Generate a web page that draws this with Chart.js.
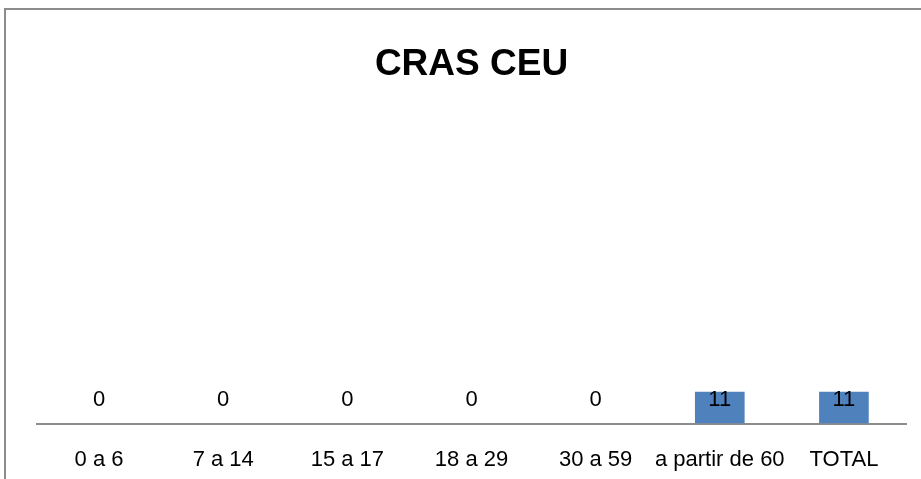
<!DOCTYPE html>
<html lang="pt">
<head>
    <meta charset="UTF-8">
    <title>CRAS CEU</title>
    <script src="https://cdn.jsdelivr.net/npm/chart.js"></script>
    <style>
        html, body {
            margin: 0;
            padding: 0;
            background: #ffffff;
            overflow: hidden;
        }

        #frame {
            position: absolute;
            left: 4px;
            top: 8px;
            width: 1000px;
            height: 1000px;
            border: 2px solid #8c8c8c;
        }

        #wrap {
            position: absolute;
            left: 0;
            top: 0;
            width: 921px;
            height: 479px;
        }
    </style>
</head>
<body>
    <div id="frame"></div>
    <div id="wrap">
        <canvas id="grafico"></canvas>
    </div>

    <script>
        // faixas etárias e atendimentos
        const faixas = ['0 a 6', '7 a 14', '15 a 17', '18 a 29', '30 a 59', 'a partir de 60', 'TOTAL'];
        const atendimentos = [0, 0, 0, 0, 0, 11, 11];
        const tituloGrafico = 'CRAS CEU';

        const fonte = "'Liberation Sans', Arial, sans-serif";

        // rótulos de valor no topo das barras (como no Excel)
        const rotulos = {
            id: 'rotulos',
            afterDatasetsDraw(chart) {
                const ctx = chart.ctx;
                const meta = chart.getDatasetMeta(0);
                const base = chart.scales.y.getPixelForValue(0);
                ctx.save();
                ctx.font = '22px ' + fonte;
                ctx.fillStyle = '#000000';
                ctx.textAlign = 'center';
                ctx.textBaseline = 'middle';
                meta.data.forEach((bar, i) => {
                    const y = Math.min(bar.y, base - 32) + 8;
                    ctx.fillText(String(atendimentos[i]), bar.x, y);
                });
                ctx.restore();
            }
        };

        new Chart(document.getElementById('grafico'), {
            type: 'bar',
            data: {
                labels: faixas,
                datasets: [{
                    label: 'Atendimentos',
                    data: atendimentos,
                    backgroundColor: '#4f81bd',
                    borderWidth: 0,
                    barPercentage: 0.4,
                    categoryPercentage: 1.0
                }]
            },
            options: {
                responsive: true,
                maintainAspectRatio: false,
                animation: false,
                layout: {
                    padding: { left: 37, right: 15, top: 0, bottom: -17 }
                },
                scales: {
                    x: {
                        grid: { display: false, drawTicks: false },
                        border: { display: true, color: '#8c8c8c', width: 2 },
                        ticks: {
                            color: '#000000',
                            padding: 23,
                            maxRotation: 0,
                            autoSkip: false,
                            font: { family: fonte, size: 22 }
                        }
                    },
                    y: {
                        display: false,
                        min: 0,
                        max: 109
                    }
                },
                plugins: {
                    legend: { display: false },
                    tooltip: { enabled: false },
                    title: {
                        display: true,
                        text: tituloGrafico,
                        color: '#000000',
                        font: { family: fonte, size: 37, weight: 'bold' },
                        padding: { top: 43, bottom: 20 }
                    }
                }
            },
            plugins: [rotulos]
        });
    </script>
</body>
</html>
